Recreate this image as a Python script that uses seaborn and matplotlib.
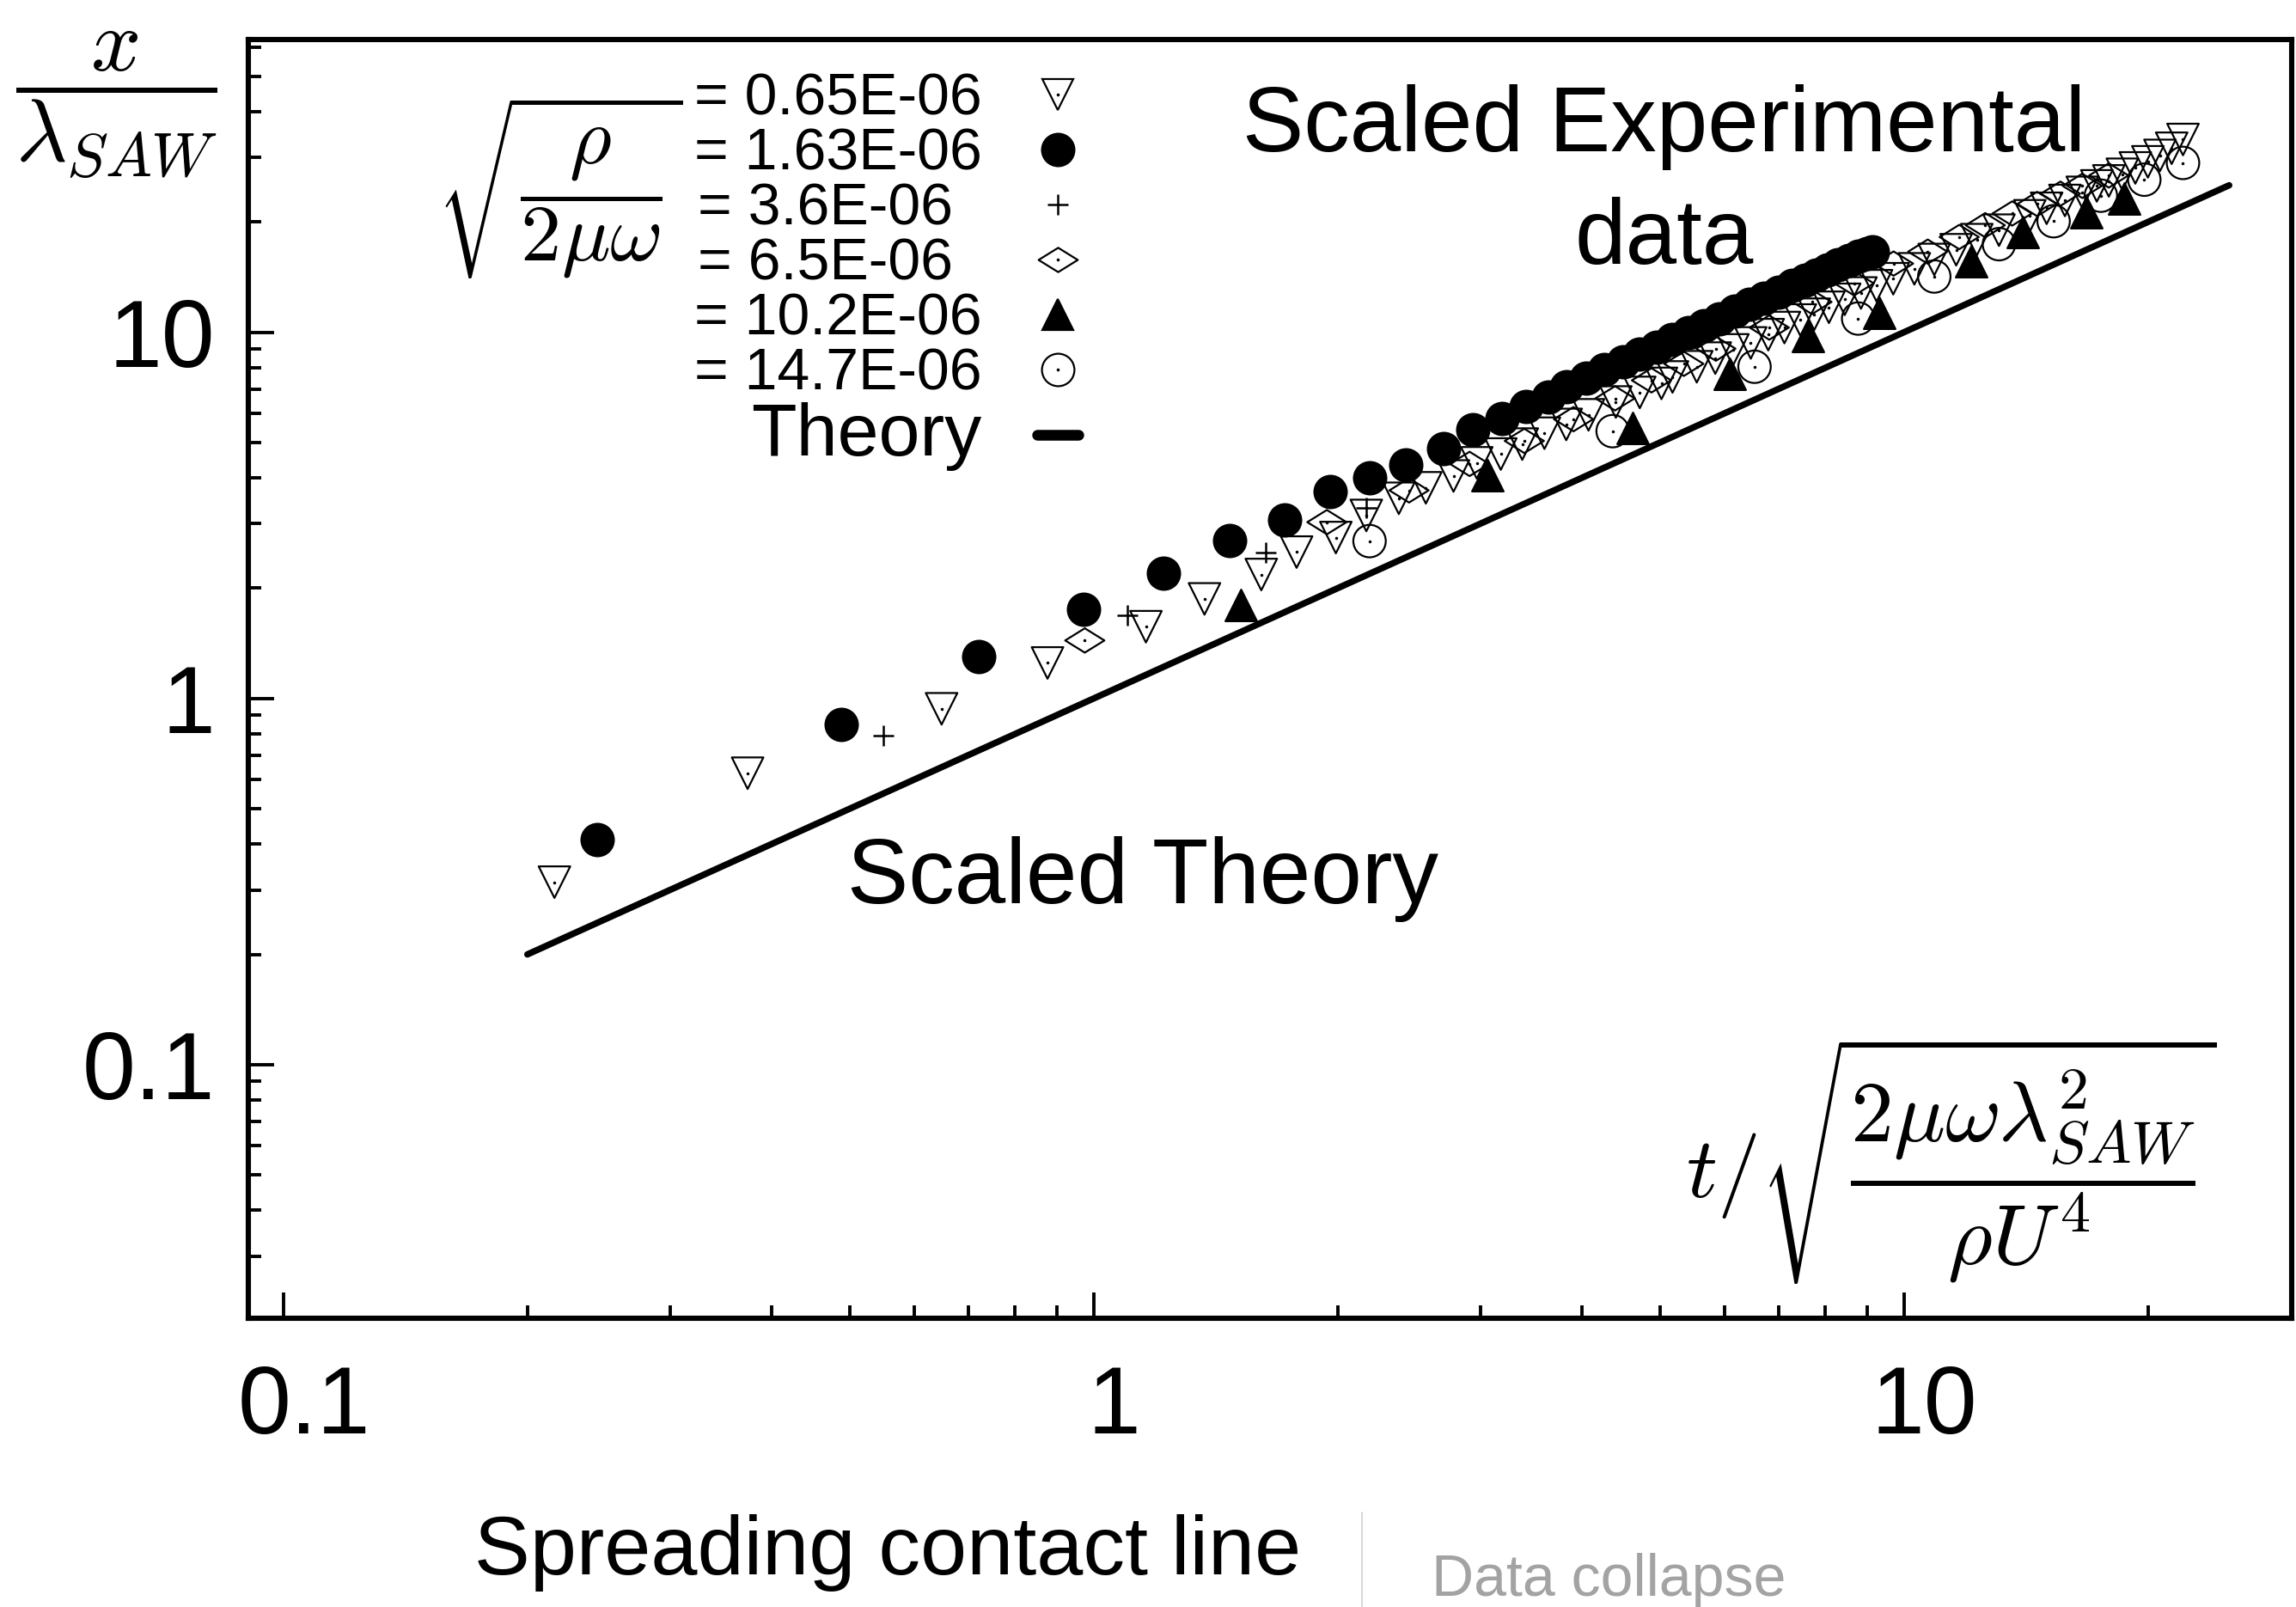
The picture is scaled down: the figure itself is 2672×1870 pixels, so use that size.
import numpy as np
import matplotlib
matplotlib.use("Agg")
import matplotlib.pyplot as plt
import matplotlib.ticker as mticker
import matplotlib.transforms as mtransforms
from matplotlib.path import Path
from matplotlib.lines import Line2D
from matplotlib.legend_handler import HandlerTuple
import seaborn as sns

# ---- scaled experimental data (x = scaled time, y = x / lambda_SAW) ----
# sqrt(rho / 2 mu omega) = 0.65E-06  (open down-triangles)
t_065 = [0.216, 0.374, 0.649, 0.877, 1.16, 1.37, 1.61, 1.78, 1.99, 2.17, 2.38, 2.57,
         2.78, 2.97, 3.18, 3.38, 3.60, 3.83, 4.08, 4.41, 4.72, 5.02, 5.18, 5.55, 5.85,
         6.15, 6.47, 6.80, 7.12, 7.45, 7.75, 8.08, 8.45, 8.85, 9.25, 9.70, 10.3, 10.9,
         11.6, 12.3, 13.1, 14.3, 15.0, 15.8, 16.6, 17.3, 17.9, 18.6, 19.3, 20.0, 20.7,
         21.4, 22.1]
x_065 = [0.315, 0.625, 0.937, 1.25, 1.57, 1.87, 2.18, 2.51, 2.75, 3.16, 3.52, 3.76,
         4.05, 4.40, 4.65, 4.95, 5.30, 5.60, 5.95, 6.45, 6.85, 7.25, 7.55, 8.05, 8.50,
         8.95, 9.35, 9.85, 10.3, 10.8, 11.2, 11.7, 12.3, 12.8, 13.4, 14.0, 14.9, 15.8,
         16.8, 17.9, 19.0, 20.8, 21.8, 22.9, 24.1, 25.1, 25.9, 27.0, 28.1, 29.2, 30.4,
         31.8, 33.6]

# 1.63E-06  (filled circles)
t_163 = [0.244, 0.488, 0.721, 0.971, 1.22, 1.47, 1.72, 1.96, 2.19, 2.43, 2.70, 2.94,
         3.19, 3.42, 3.64, 3.83, 4.05, 4.27, 4.50, 4.72, 4.95, 5.18, 5.42, 5.66, 5.92,
         6.18, 6.45, 6.72, 7.00, 7.28, 7.55, 7.80, 8.05, 8.30, 8.55, 8.80, 9.00, 9.14]
x_163 = [0.412, 0.851, 1.30, 1.75, 2.20, 2.70, 3.08, 3.67, 4.00, 4.35, 4.80, 5.43,
         5.82, 6.28, 6.67, 7.11, 7.50, 7.90, 8.32, 8.70, 9.10, 9.58, 10.0, 10.4, 10.9,
         11.4, 11.9, 12.4, 12.9, 13.4, 13.9, 14.3, 14.8, 15.3, 15.7, 16.1, 16.4, 16.6]

# 3.6E-06  (plus signs)
t_36 = [0.55, 1.10, 1.63, 2.17]
x_36 = [0.790, 1.69, 2.50, 3.32]

# 6.5E-06  (open diamonds)
t_65 = [0.975, 1.94, 2.45, 2.91, 3.40, 3.91, 4.40, 4.88, 5.35, 5.86, 6.82, 7.70, 8.68,
        9.71, 10.7, 11.7, 12.6, 13.6, 14.6, 15.6, 16.6, 17.9]
x_65 = [1.44, 3.03, 3.70, 4.37, 5.05, 5.79, 6.60, 7.39, 8.20, 9.02, 10.3, 12.1, 13.6,
        15.4, 16.6, 18.2, 19.6, 21.1, 22.4, 23.9, 25.1, 26.8]

# 10.2E-06  (filled up-triangles)
t_102 = [1.52, 3.06, 4.63, 6.09, 7.62, 9.33, 12.1, 14.0, 16.8, 18.7]
x_102 = [1.80, 4.08, 5.49, 7.70, 9.78, 11.3, 15.6, 18.8, 21.3, 23.2]

# 14.7E-06  (open circles)
t_147 = [2.19, 4.37, 6.54, 8.78, 10.9, 13.1, 15.3, 17.5, 19.8, 22.1]
x_147 = [2.69, 5.37, 8.05, 10.9, 14.2, 17.4, 20.1, 23.6, 26.1, 29.0]

# scaled theory: x / lambda_SAW = t (slope one in log-log)
t_theory = [0.2, 25.2]
x_theory = [0.2, 25.2]

legend_labels = ["= 0.65E-06", "= 1.63E-06", "= 3.6E-06\u2002", "= 6.5E-06\u2002",
                 "= 10.2E-06", "= 14.7E-06", "Theory"]
x_ticks = [0.1, 1, 10]
x_ticklabels = ["0.1", "1", "10"]
y_ticks = [0.1, 1, 10]
y_ticklabels = ["0.1", "1", "10"]

sns.set_style("ticks")
plt.rcParams["font.family"] = ["Liberation Sans", "DejaVu Sans"]
plt.rcParams["mathtext.fontset"] = "cm"
for key in ("text.color", "axes.labelcolor", "xtick.color", "ytick.color"):
    plt.rcParams[key] = "black"

W, H = 2672, 1870
DPI = 200
fig = plt.figure(figsize=(W / DPI, H / DPI), dpi=DPI)
ax = fig.add_axes([289 / W, 1 - 1534 / H, (2667 - 289) / W, (1534 - 46) / H])
ax.set_xscale("log")
ax.set_yscale("log")

# flattened diamond marker
diamond = Path([(-1, 0), (0, 0.62), (1, 0), (0, -0.62), (-1, 0)],
               [Path.MOVETO, Path.LINETO, Path.LINETO, Path.LINETO, Path.CLOSEPOLY])

S_TRI = 175
S_CIR = 185
S_DIA = 270
S_PLUS = 75
LW = 0.8


def draw(t, x, marker, s, filled, dot):
    sns.scatterplot(x=t, y=x, ax=ax, marker=marker, s=s,
                    facecolor="black" if filled else "none", edgecolor="black",
                    linewidth=LW, zorder=3, legend=False)
    if dot:
        sns.scatterplot(x=t, y=x, ax=ax, marker="o", s=1.6, color="black",
                        linewidth=0, zorder=4, legend=False)


sns.lineplot(x=t_theory, y=x_theory, ax=ax, color="black", linewidth=2.7, zorder=2)
draw(t_147, x_147, "o", S_CIR, False, True)
draw(t_102, x_102, "^", S_TRI, True, False)
draw(t_65, x_65, diamond, S_DIA, False, True)
draw(t_065, x_065, "v", S_TRI, False, True)
sns.scatterplot(x=t_36, y=x_36, ax=ax, marker="+", s=S_PLUS, color="black",
                linewidth=0.9, zorder=3, legend=False)
draw(t_163, x_163, "o", S_CIR, True, False)

ax.set_xlim(0.0905, 30.1)
ax.set_ylim(0.0203, 63)

for a in (ax.xaxis, ax.yaxis):
    a.set_minor_locator(mticker.LogLocator(base=10, subs=np.arange(2, 10)))
    a.set_minor_formatter(mticker.NullFormatter())
ax.set_xticks(x_ticks, x_ticklabels)
ax.set_yticks(y_ticks, y_ticklabels)
ax.tick_params(which="both", direction="in", top=False, right=False, width=1.4,
               colors="black", labelsize=40)
ax.tick_params(which="major", length=10.8)
ax.tick_params(which="minor", length=5.4)
ax.tick_params(axis="x", pad=19)
ax.tick_params(axis="y", pad=14)
# the x tick labels sit slightly right of their ticks
shift = mtransforms.ScaledTranslation(24 / DPI, 0, fig.dpi_scale_trans)
for lab in ax.get_xticklabels():
    lab.set_transform(lab.get_transform() + shift)
for sp in ax.spines.values():
    sp.set_linewidth(2.2)
    sp.set_color("black")
ax.set_xlabel("")
ax.set_ylabel("")


# legend: label text first, symbol after
def tup(marker, ms, fc, dot):
    h = Line2D([], [], linestyle="none", marker=marker, markersize=ms,
               markerfacecolor=fc, markeredgecolor="black", markeredgewidth=LW)
    if dot:
        d = Line2D([], [], linestyle="none", marker="o", markersize=1.3,
                   markerfacecolor="black", markeredgewidth=0)
        return (h, d)
    return h


handles = [
    tup("v", np.sqrt(S_TRI), "none", True),
    tup("o", np.sqrt(S_CIR), "black", False),
    Line2D([], [], linestyle="none", marker="+", markersize=np.sqrt(S_PLUS),
           color="black", markeredgewidth=0.9),
    tup(diamond, np.sqrt(S_DIA), "none", True),
    tup("^", np.sqrt(S_TRI), "black", False),
    tup("o", np.sqrt(S_CIR), "none", True),
    Line2D([], [], color="black", linewidth=4.5),
]
leg = ax.legend(handles, legend_labels, loc="upper right",
                bbox_to_anchor=((1255 - 289) / 2378, (1534 - 84) / 1488),
                frameon=False, markerfirst=False, fontsize=24.5,
                handlelength=0.7, handletextpad=0.95, labelspacing=0.0,
                borderpad=0, borderaxespad=0,
                handler_map={tuple: HandlerTuple(ndivide=1, pad=0)})
leg.get_texts()[-1].set_fontsize(31)

# annotations inside the axes
ax.text((1937 - 289) / 2378, (1534 - 176) / 1488, "Scaled Experimental",
        transform=ax.transAxes, ha="center", va="baseline", fontsize=38.5)
ax.text((1937 - 289) / 2378, (1534 - 307) / 1488, "data",
        transform=ax.transAxes, ha="center", va="baseline", fontsize=38.5)
ax.text((1330 - 289) / 2378, (1534 - 1051) / 1488, "Scaled Theory",
        transform=ax.transAxes, ha="center", va="baseline", fontsize=38.5)

# axis quantities written as formulas
fig.text(136 / W, 1 - 122 / H, r"$\dfrac{x}{\lambda_{SAW}}$", ha="center", va="center",
         fontsize=37)
fig.text(651 / W, 1 - 219 / H, r"$\sqrt{\dfrac{\rho}{2\mu\omega}}$", ha="center",
         va="center", fontsize=34)
fig.text(2271 / W, 1 - 1350 / H, r"$t/\sqrt{\dfrac{2\mu\omega\lambda_{SAW}^{2}}{\rho U^{4}}}$",
         ha="center", va="center", fontsize=36)

# caption strip below the plot
fig.text(1033 / W, 1 - 1832 / H, "Spreading contact line", ha="center", va="baseline",
         fontsize=35)
fig.add_artist(Line2D([1585 / W, 1585 / W], [0, 1 - 1760 / H], color="#cfcfcf",
                      linewidth=0.6))
fig.text(1872 / W, 1 - 1857 / H, "Data collapse", ha="center", va="baseline",
         fontsize=24.5, color="#a3a3a3")

fig.savefig("out.png", dpi=DPI, facecolor="white")
